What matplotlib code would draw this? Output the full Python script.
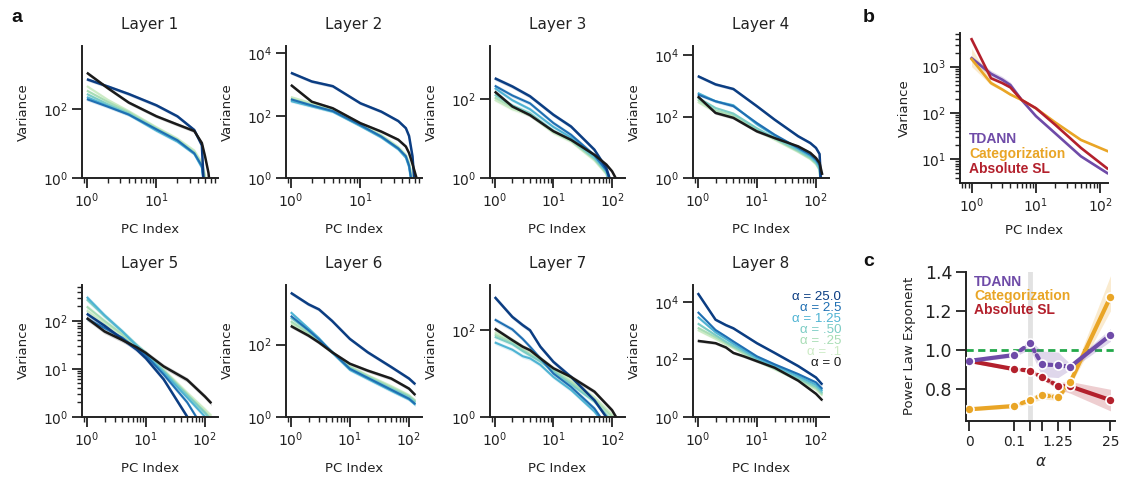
import numpy as np
import matplotlib
matplotlib.use("Agg")
import matplotlib.pyplot as plt
from matplotlib.ticker import LogLocator, NullLocator, NullFormatter, FixedLocator

# ---------------------------------------------------------------- data
ALPHA_LABELS = ['0', '.1', '.25', '.50', '1.25', '2.5', '25.0']
ALPHA_COLORS = ['#1a1a1a', '#ccebc5', '#a8ddb5', '#7bccc4', '#4eb3d3', '#1f6fb2', '#0b3d82']

LAYER_TITLES = ['Layer 1', 'Layer 2', 'Layer 3', 'Layer 4',
                'Layer 5', 'Layer 6', 'Layer 7', 'Layer 8']

PC_L12 = [1, 2, 4, 10, 20, 35, 45, 50, 56, 64]
PC_L34 = [1, 2, 4, 10, 20, 50, 80, 100, 115, 128]
PC_L5 = [1, 2, 4, 7, 10, 20, 50, 100, 128]
PC_L6 = [1, 2, 3, 5, 10, 20, 50, 100, 128]
PC_L78 = [1, 2, 3, 4, 6, 10, 20, 50, 100, 128]

# log10(variance) per alpha, order of ALPHA_LABELS
L1_LOGVAR = [
    [3.07, 2.62, 2.20, 1.80, 1.56, 1.37, 1.02, 0.63, 0.15, -1],
    [2.68, 2.28, 1.95, 1.48, 1.15, 0.80, 0.45, 0.10, -1, -1],
    [2.55, 2.22, 1.92, 1.45, 1.12, 0.75, 0.40, 0.00, -1, -1],
    [2.45, 2.15, 1.88, 1.42, 1.10, 0.72, 0.35, -0.2, -1, -1],
    [2.36, 2.10, 1.85, 1.38, 1.06, 0.70, 0.30, -0.5, -1, -1],
    [2.30, 2.08, 1.85, 1.42, 1.10, 0.72, 0.35, -0.5, -1, -1],
    [2.88, 2.67, 2.45, 2.12, 1.80, 1.40, 0.95, -1, -1, -1],
]
L2_LOGVAR = [
    [2.99, 2.45, 2.24, 1.76, 1.49, 1.23, 1.01, 0.80, 0.45, 0.0],
    [2.60, 2.40, 2.20, 1.72, 1.38, 1.00, 0.75, 0.50, 0.00, -1],
    [2.55, 2.35, 2.17, 1.70, 1.35, 0.97, 0.70, 0.45, -0.2, -1],
    [2.50, 2.33, 2.15, 1.68, 1.33, 0.95, 0.68, 0.40, -0.3, -1],
    [2.47, 2.30, 2.13, 1.67, 1.30, 0.92, 0.65, 0.35, -0.4, -1],
    [2.53, 2.33, 2.15, 1.70, 1.33, 0.95, 0.70, 0.40, -0.3, -1],
    [3.38, 3.10, 2.95, 2.40, 2.13, 1.83, 1.60, 1.35, 0.70, -1],
]
L3_LOGVAR = [
    [2.20, 1.82, 1.60, 1.19, 0.97, 0.59, 0.34, 0.17, 0.00, -1],
    [1.99, 1.75, 1.60, 1.15, 0.93, 0.45, 0.10, -0.5, -1, -1],
    [2.05, 1.80, 1.62, 1.18, 0.95, 0.48, 0.12, -0.5, -1, -1],
    [2.12, 1.85, 1.65, 1.20, 0.98, 0.50, 0.15, -0.4, -1, -1],
    [2.29, 1.98, 1.75, 1.30, 1.03, 0.55, 0.18, -0.3, -1, -1],
    [2.35, 2.10, 1.90, 1.40, 1.10, 0.58, 0.20, -0.2, -1, -1],
    [2.54, 2.33, 2.08, 1.61, 1.31, 0.72, 0.25, -0.2, -1, -1],
]
L4_LOGVAR = [
    [2.66, 2.12, 1.96, 1.52, 1.30, 1.03, 0.82, 0.65, 0.49, 0.10],
    [2.48, 2.15, 2.00, 1.55, 1.25, 0.85, 0.62, 0.45, 0.25, -1],
    [2.55, 2.20, 2.05, 1.58, 1.28, 0.87, 0.64, 0.47, 0.28, -1],
    [2.62, 2.28, 2.10, 1.62, 1.30, 0.90, 0.67, 0.50, 0.30, -1],
    [2.77, 2.50, 2.37, 1.75, 1.38, 0.95, 0.72, 0.55, 0.38, -1],
    [2.72, 2.50, 2.34, 1.79, 1.41, 0.98, 0.76, 0.60, 0.43, -1],
    [3.32, 3.05, 2.90, 2.34, 1.90, 1.36, 1.14, 0.98, 0.78, -1],
]
L5_LOGVAR = [
    [2.06, 1.78, 1.60, 1.45, 1.33, 1.05, 0.77, 0.42, 0.28],
    [2.22, 1.95, 1.70, 1.48, 1.33, 0.98, 0.50, 0.15, 0.02],
    [2.30, 2.00, 1.72, 1.48, 1.33, 0.96, 0.47, 0.10, -0.05],
    [2.45, 2.10, 1.78, 1.50, 1.33, 0.95, 0.45, 0.08, -0.08],
    [2.50, 2.12, 1.78, 1.48, 1.30, 0.92, 0.40, 0.00, -0.10],
    [2.05, 1.85, 1.65, 1.42, 1.28, 0.88, 0.30, -0.3, -0.5],
    [2.15, 1.90, 1.62, 1.40, 1.22, 0.78, 0.00, -0.6, -0.8],
]
L6_LOGVAR = [
    [2.52, 2.25, 2.06, 1.79, 1.47, 1.28, 1.06, 0.78, 0.60],
    [2.58, 2.28, 2.08, 1.80, 1.40, 1.15, 0.85, 0.60, 0.45],
    [2.65, 2.32, 2.10, 1.80, 1.38, 1.13, 0.82, 0.58, 0.43],
    [2.75, 2.38, 2.12, 1.80, 1.35, 1.10, 0.78, 0.55, 0.40],
    [2.90, 2.45, 2.18, 1.78, 1.30, 1.05, 0.72, 0.48, 0.33],
    [2.80, 2.40, 2.15, 1.80, 1.33, 1.08, 0.75, 0.50, 0.35],
    [3.44, 3.12, 2.98, 2.66, 2.16, 1.79, 1.38, 1.06, 0.90],
]
L7_LOGVAR = [
    [2.04, 1.77, 1.62, 1.54, 1.35, 1.12, 0.92, 0.58, 0.15, -0.1],
    [1.95, 1.78, 1.62, 1.52, 1.35, 1.12, 0.85, 0.45, 0.05, -0.1],
    [1.90, 1.72, 1.55, 1.45, 1.30, 1.08, 0.80, 0.40, 0.00, -0.2],
    [1.85, 1.68, 1.52, 1.42, 1.28, 1.05, 0.75, 0.35, -0.1, -0.3],
    [1.72, 1.55, 1.40, 1.35, 1.20, 0.92, 0.62, 0.12, -0.4, -0.5],
    [2.25, 2.02, 1.80, 1.62, 1.35, 1.00, 0.69, 0.19, -0.4, -0.5],
    [2.77, 2.31, 2.12, 2.00, 1.62, 1.27, 0.92, 0.38, -0.2, -0.4],
]
L8_LOGVAR = [
    [2.65, 2.57, 2.42, 2.23, 2.11, 1.94, 1.71, 1.26, 0.80, 0.57],
    [3.03, 2.72, 2.52, 2.40, 2.20, 1.95, 1.66, 1.27, 0.95, 0.74],
    [3.11, 2.78, 2.57, 2.43, 2.22, 1.97, 1.68, 1.30, 1.00, 0.78],
    [3.26, 2.85, 2.62, 2.47, 2.27, 2.00, 1.72, 1.35, 1.05, 0.83],
    [3.49, 2.95, 2.72, 2.55, 2.33, 2.05, 1.78, 1.42, 1.12, 0.90],
    [3.66, 3.03, 2.80, 2.63, 2.40, 2.11, 1.83, 1.49, 1.20, 0.97],
    [4.32, 3.39, 3.20, 3.09, 2.86, 2.57, 2.23, 1.77, 1.37, 1.12],
]

LAYER_PCS = [PC_L12, PC_L12, PC_L34, PC_L34, PC_L5, PC_L6, PC_L78, PC_L78]
LAYER_LOGVAR = [L1_LOGVAR, L2_LOGVAR, L3_LOGVAR, L4_LOGVAR,
                L5_LOGVAR, L6_LOGVAR, L7_LOGVAR, L8_LOGVAR]
LAYER_YTOP_LOG = [3.85, 4.24, 3.36, 4.30, 2.76, 3.67, 3.06, 4.62]
LAYER_YTICKS = [[1, 1e2], [1, 1e2, 1e4], [1, 1e2], [1, 1e2, 1e4],
                [1, 1e1, 1e2], [1, 1e2], [1, 1e2], [1, 1e2, 1e4]]

# panel b
B_PC = [1, 2, 3, 4, 6, 10, 20, 50, 128]
B_TDANN = [1520, 700, 520, 400, 190, 85, 36, 11.5, 5.0]
B_CATEG = [1450, 440, 320, 250, 190, 125, 62, 26, 15]
B_ABSSL = [3900, 560, 440, 355, 190, 126, 55, 17.5, 6.3]
B_TDANN_LO = [1350, 600, 440, 340, 170, 80, 34, 11, 4.7]
B_TDANN_HI = [1700, 820, 610, 460, 210, 90, 38, 12, 5.3]
B_CATEG_LO = [1000, 400, 300, 235, 180, 120, 60, 25, 14.5]
B_CATEG_HI = [2500, 500, 345, 265, 200, 130, 64, 27, 15.5]

# panel c
C_ALPHA = [0, 0.1, 0.25, 0.5, 1.25, 2.5, 25]
C_TDANN = [0.945, 0.975, 1.034, 0.927, 0.923, 0.915, 1.077]
C_TDANN_LO = [0.937, 0.965, 1.005, 0.865, 0.86, 0.90, 1.045]
C_TDANN_HI = [0.953, 0.985, 1.05, 0.995, 0.99, 0.93, 1.11]
C_CATEG = [0.698, 0.715, 0.745, 0.770, 0.760, 0.836, 1.272]
C_CATEG_LO = [0.69, 0.705, 0.73, 0.75, 0.745, 0.82, 1.20]
C_CATEG_HI = [0.706, 0.725, 0.76, 0.79, 0.775, 0.85, 1.38]
C_ABSSL = [0.945, 0.903, 0.896, 0.861, 0.818, 0.815, 0.745]
C_ABSSL_LO = [0.937, 0.895, 0.885, 0.85, 0.80, 0.78, 0.69]
C_ABSSL_HI = [0.953, 0.912, 0.905, 0.875, 0.835, 0.84, 0.80]
C_XTICKS = [0, 0.1, 0.25, 0.5, 1.25, 2.5, 25]
C_XTICKLABELS = ['0', '0.1', '', '', '1.25', '', '25']

COL_TDANN = '#6f4ba8'
COL_CATEG = '#e9a526'
COL_ABSSL = '#b3202c'

# ---------------------------------------------------------------- figure
W, H = 1121, 479
fig = plt.figure(figsize=(W / 100, H / 100), dpi=100)
TXT = '#222222'
plt.rcParams['text.color'] = TXT
plt.rcParams['axes.labelcolor'] = TXT
plt.rcParams['xtick.color'] = TXT
plt.rcParams['ytick.color'] = TXT


def px_axes(left, top, right, bottom):
    return fig.add_axes([left / W, 1 - bottom / H, (right - left) / W, (bottom - top) / H])


def style(ax, labelsize=10):
    for s in ['top', 'right']:
        ax.spines[s].set_visible(False)
    for s in ['left', 'bottom']:
        ax.spines[s].set_linewidth(1.4)
        ax.spines[s].set_color(TXT)
    ax.tick_params(which='major', length=7, width=1.3, labelsize=labelsize, pad=3)
    ax.tick_params(which='minor', length=3.5, width=1.0)


COL_X = [(82, 218), (286, 422), (490, 625), (693, 829)]
ROW_Y = [(46, 178), (284.5, 416.7)]
DRAW_ORDER = [1, 2, 3, 4, 5, 6, 0]
BAND = 1.12

for i in range(8):
    r, c = divmod(i, 4)
    ax = px_axes(COL_X[c][0], ROW_Y[r][0], COL_X[c][1], ROW_Y[r][1])
    style(ax)
    ax.set_xscale('log')
    ax.set_yscale('log')
    pcs = LAYER_PCS[i]
    for k in DRAW_ORDER:
        v = 10.0 ** np.array(LAYER_LOGVAR[i][k])
        col = ALPHA_COLORS[k]
        ax.fill_between(pcs, v / BAND, v * BAND, color=col, alpha=0.18, lw=0)
        ax.plot(pcs, v, color=col, lw=1.8 if k in (0, 6) else 1.5, solid_capstyle='butt')
    if pcs[-1] == 64:
        ax.set_xlim(10 ** -0.07, 10 ** 1.885)
        ax.set_xticks([1, 10])
    else:
        ax.set_xlim(10 ** -0.08, 10 ** 2.22)
        ax.set_xticks([1, 10, 100])
    ax.xaxis.set_minor_locator(LogLocator(base=10, subs=np.arange(2, 10)))
    ax.xaxis.set_minor_formatter(NullFormatter())
    ax.set_ylim(1, 10 ** LAYER_YTOP_LOG[i])
    ax.yaxis.set_major_locator(FixedLocator(LAYER_YTICKS[i]))
    if i == 4:
        ax.yaxis.set_minor_locator(LogLocator(base=10, subs=np.arange(2, 10)))
    else:
        ax.yaxis.set_minor_locator(NullLocator())
    ax.yaxis.set_minor_formatter(NullFormatter())
    ax.set_title(LAYER_TITLES[i], fontsize=11, pad=12, color=TXT)
    ax.set_xlabel('PC Index', fontsize=9.5, labelpad=9)
    ax.set_ylabel('Variance', fontsize=9.5, labelpad=9)

# alpha legend (Layer 8)
leg_y = [297.3, 308.2, 319.1, 330, 340.8, 351.7, 362.6]
for j, k in enumerate([6, 5, 4, 3, 2, 1, 0]):
    fig.text(841 / W, 1 - leg_y[j] / H, '\u03b1 = ' + ALPHA_LABELS[k], color=ALPHA_COLORS[k],
             ha='right', va='center', fontsize=9.6, family=['Liberation Sans', 'DejaVu Sans'])

# ---------------------------------------------------------------- panel b
axb = px_axes(960, 33.3, 1107.6, 182.7)
style(axb)
axb.set_xscale('log')
axb.set_yscale('log')
axb.fill_between(B_PC, B_TDANN_LO, B_TDANN_HI, color=COL_TDANN, alpha=0.22, lw=0)
axb.fill_between(B_PC, B_CATEG_LO, B_CATEG_HI, color=COL_CATEG, alpha=0.22, lw=0)
axb.plot(B_PC, B_TDANN, color=COL_TDANN, lw=1.9)
axb.plot(B_PC, B_CATEG, color=COL_CATEG, lw=1.9)
axb.plot(B_PC, B_ABSSL, color=COL_ABSSL, lw=1.9)
axb.set_xlim(0.66, 130)
axb.set_ylim(10 ** 0.49, 10 ** 3.72)
axb.set_xticks([1, 10, 100])
axb.set_yticks([10, 100, 1000])
axb.xaxis.set_minor_locator(LogLocator(base=10, subs=np.arange(2, 10)))
axb.yaxis.set_minor_locator(LogLocator(base=10, subs=np.arange(2, 10)))
axb.xaxis.set_minor_formatter(NullFormatter())
axb.yaxis.set_minor_formatter(NullFormatter())
axb.set_xlabel('PC Index', fontsize=9.5, labelpad=6)
axb.set_ylabel('Variance', fontsize=9.5, labelpad=7)

LEG_FONT = ['Liberation Sans', 'DejaVu Sans']
for txt, col, yy in [('TDANN', COL_TDANN, 139), ('Categorization', COL_CATEG, 154),
                     ('Absolute SL', COL_ABSSL, 168.5)]:
    fig.text(969 / W, 1 - yy / H, txt, color=col, fontsize=10, fontweight='bold',
             family=LEG_FONT, ha='left', va='center')

# ---------------------------------------------------------------- panel c
axc = px_axes(966, 271.7, 1115, 420.7)
style(axc)
axc.set_xscale('symlog', linthresh=0.1, linscale=1)
axc.axvline(0.25, color='#e2e2e2', lw=3.5, zorder=0)
axc.axhline(1.0, color='#22a84a', lw=2, linestyle=(0, (2.6, 1.6)), zorder=1)

for y, lo, hi, col in [(C_ABSSL, C_ABSSL_LO, C_ABSSL_HI, COL_ABSSL),
                       (C_CATEG, C_CATEG_LO, C_CATEG_HI, COL_CATEG),
                       (C_TDANN, C_TDANN_LO, C_TDANN_HI, COL_TDANN)]:
    axc.fill_between(C_ALPHA, lo, hi, color=col, alpha=0.22, lw=0, zorder=2)
    axc.plot(C_ALPHA[:2], y[:2], color=col, lw=3, solid_capstyle='round', zorder=3)
    axc.plot(C_ALPHA[5:], y[5:], color=col, lw=3, solid_capstyle='round', zorder=3)
    axc.plot(C_ALPHA[1:6], y[1:6], color=col, lw=3, linestyle=(0, (0.9, 1.1)),
             dash_capstyle='round', zorder=3)
    axc.plot(C_ALPHA, y, linestyle='none', marker='o', ms=6.5, mfc=col, mec='white',
             mew=1.2, zorder=4)

axc.set_xlim(-0.0074, 32.4)
axc.set_ylim(0.64, 1.4)
axc.set_xticks(C_XTICKS)
axc.set_xticklabels(C_XTICKLABELS)
axc.xaxis.set_minor_locator(NullLocator())
axc.set_yticks([0.8, 1.0, 1.2, 1.4])
axc.tick_params(axis='y', labelsize=12.5)
axc.tick_params(axis='x', labelsize=10)
axc.set_xlabel(r'$\alpha$', fontsize=11, labelpad=4)
axc.set_ylabel('Power Law Exponent', fontsize=9.5, labelpad=6)

for txt, col, yy in [('TDANN', COL_TDANN, 282), ('Categorization', COL_CATEG, 296),
                     ('Absolute SL', COL_ABSSL, 310.5)]:
    fig.text(974 / W, 1 - yy / H, txt, color=col, fontsize=10, fontweight='bold',
             family=LEG_FONT, ha='left', va='center')

# panel letters
for letter, x, y in [('a', 17, 17), ('b', 869, 17), ('c', 869, 262)]:
    fig.text(x / W, 1 - y / H, letter, fontsize=14, fontweight='bold',
             family=LEG_FONT, ha='center', va='center', color='#111111')

fig.savefig('out.png', dpi=100)
